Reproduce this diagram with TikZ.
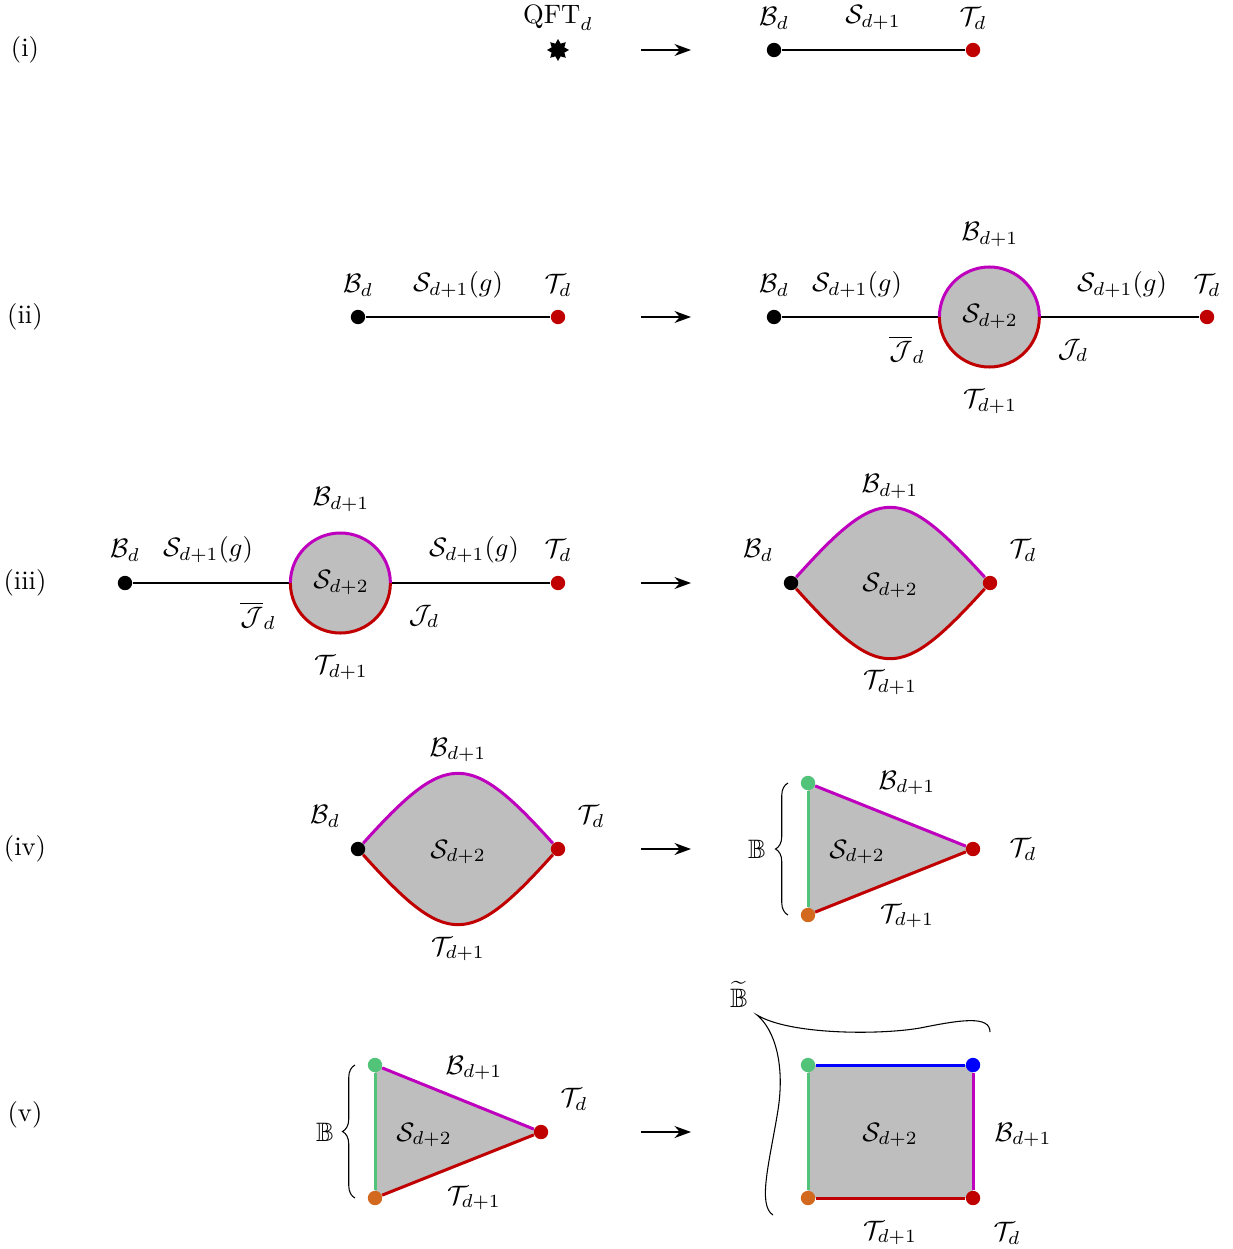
\documentclass[tikz,border=0pt]{standalone}
\usepackage{amssymb}
\usetikzlibrary{arrows.meta,shapes.geometric,decorations.pathreplacing}

\definecolor{tdred}{RGB}{192,0,0}
\definecolor{bdmag}{RGB}{190,0,190}
\definecolor{bgreen}{RGB}{82,196,122}
\definecolor{borange}{RGB}{210,105,30}
\definecolor{bblue}{RGB}{0,0,255}
\definecolor{blobgray}{RGB}{190,190,190}

\pgfdeclarelayer{background}
\pgfsetlayers{background,main}

\tikzset{
  vtx/.style={circle,fill=#1,inner sep=0pt,minimum size=0.19cm},
  vtx/.default=black,
  bline/.style={draw=bdmag,line width=1.13pt},
  tline/.style={draw=tdred,line width=1.13pt},
  gline/.style={draw=bgreen,line width=1.13pt},
  kline/.style={draw=bblue,line width=1.13pt},
  blob/.style={circle,fill=blobgray,inner sep=0pt,minimum size=1.32cm},
  bbrace/.style={decorate,decoration={brace,amplitude=4.7pt}},
}

\begin{document}
\begin{tikzpicture}[x=0.0132cm,y=-0.0132cm,line width=0.47pt,
    >={Stealth[length=6.2pt,width=4.5pt,inset=2pt]}]
\useasboundingbox (0,0) rectangle (1233,1249);

\node (lab1) at (25,50) {(i)};
\node (lab2) at (25,317) {(ii)};
\node (lab3) at (25,583) {(iii)};
\node (lab4) at (25,849) {(iv)};
\node (lab5) at (25,1115) {(v)};

\foreach \y [count=\i] in {50,317,583,849,1132}{
  \coordinate (aL\i) at (641,\y);
  \coordinate (aR\i) at (691,\y);
  \draw[->] (aL\i) -- (aR\i);
}

% (i)
\node[star,star points=8,star point ratio=1.6,fill=black,inner sep=0pt,
  minimum size=0.29cm] (qft) at (558,50) {};
\node (qftl) at (558,18) {$\mathrm{QFT}_d$};
\node[vtx] (b1) at (774,50) {};
\node[vtx=tdred] (t1) at (973,50) {};
\draw (b1) -- (t1);
\node (b1l) at (774,18) {$\mathcal{B}_d$};
\node (s1l) at (873,18) {$\mathcal{S}_{d+1}$};
\node (t1l) at (973,18) {$\mathcal{T}_d$};

% (ii)
\node[vtx] (b2L) at (358,317) {};
\node[vtx=tdred] (t2L) at (558,317) {};
\draw (b2L) -- (t2L);
\node (b2Ll) at (358,285) {$\mathcal{B}_d$};
\node (s2Ll) at (458,285) {$\mathcal{S}_{d+1}(g)$};
\node (t2Ll) at (558,285) {$\mathcal{T}_d$};

\node[vtx] (b2R) at (774,317) {};
\node[blob] (blob2) at (990,317) {$\mathcal{S}_{d+2}$};
\node[vtx=tdred] (t2R) at (1207,317) {};
\draw (b2R) -- (blob2.west);
\draw (blob2.east) -- (t2R);
\draw[bline] (blob2.west) arc[start angle=180,end angle=0,radius=0.66cm];
\draw[tline] (blob2.west) arc[start angle=180,end angle=360,radius=0.66cm];
\node (b2Rl) at (774,285) {$\mathcal{B}_d$};
\node (s2Rl) at (857,285) {$\mathcal{S}_{d+1}(g)$};
\node (bb2l) at (990,235) {$\mathcal{B}_{d+1}$};
\node (tt2l) at (990,402) {$\mathcal{T}_{d+1}$};
\node (jb2l) at (907,350) {$\overline{\mathcal{J}}_d$};
\node (j2l) at (1073,350) {$\mathcal{J}_d$};
\node (s2Rr) at (1122,285) {$\mathcal{S}_{d+1}(g)$};
\node (t2Rl) at (1207,285) {$\mathcal{T}_d$};

% (iii)
\node[vtx] (b3L) at (125,583) {};
\node[blob] (blob3) at (341,583) {$\mathcal{S}_{d+2}$};
\node[vtx=tdred] (t3L) at (558,583) {};
\draw (b3L) -- (blob3.west);
\draw (blob3.east) -- (t3L);
\draw[bline] (blob3.west) arc[start angle=180,end angle=0,radius=0.66cm];
\draw[tline] (blob3.west) arc[start angle=180,end angle=360,radius=0.66cm];
\node (b3Ll) at (125,550) {$\mathcal{B}_d$};
\node (s3Ll) at (208,550) {$\mathcal{S}_{d+1}(g)$};
\node (bb3l) at (341,500) {$\mathcal{B}_{d+1}$};
\node (tt3l) at (341,668) {$\mathcal{T}_{d+1}$};
\node (jb3l) at (258,616) {$\overline{\mathcal{J}}_d$};
\node (j3l) at (424,616) {$\mathcal{J}_d$};
\node (s3Lr) at (474,550) {$\mathcal{S}_{d+1}(g)$};
\node (t3Ll) at (558,550) {$\mathcal{T}_d$};

\node[vtx] (b3R) at (791,583) {};
\node[vtx=tdred] (t3R) at (990,583) {};
\begin{pgfonlayer}{background}
\fill[blobgray] (b3R.center) .. controls (880,484) and (900,484) .. (t3R.center)
  .. controls (900,682) and (880,682) .. (b3R.center) -- cycle;
\end{pgfonlayer}
\draw[bline] (b3R) .. controls (880,484) and (900,484) .. (t3R);
\draw[tline] (b3R) .. controls (880,682) and (900,682) .. (t3R);
\node (s3R) at (890,586) {$\mathcal{S}_{d+2}$};
\node (b3Rl) at (758,550) {$\mathcal{B}_d$};
\node (t3Rl) at (1023,550) {$\mathcal{T}_d$};
\node (bb3Rl) at (890,487) {$\mathcal{B}_{d+1}$};
\node (tt3Rl) at (890,683) {$\mathcal{T}_{d+1}$};

% (iv)
\node[vtx] (b4) at (358,849) {};
\node[vtx=tdred] (t4) at (558,849) {};
\begin{pgfonlayer}{background}
\fill[blobgray] (b4.center) .. controls (447,750) and (469,750) .. (t4.center)
  .. controls (469,948) and (447,948) .. (b4.center) -- cycle;
\end{pgfonlayer}
\draw[bline] (b4) .. controls (447,750) and (469,750) .. (t4);
\draw[tline] (b4) .. controls (447,948) and (469,948) .. (t4);
\node (s4) at (458,852) {$\mathcal{S}_{d+2}$};
\node (b4l) at (325,816) {$\mathcal{B}_d$};
\node (t4l) at (591,816) {$\mathcal{T}_d$};
\node (bb4l) at (458,750) {$\mathcal{B}_{d+1}$};
\node (tt4l) at (458,949) {$\mathcal{T}_{d+1}$};

\node[vtx=bgreen] (g4) at (808,783) {};
\node[vtx=borange] (o4) at (808,915) {};
\node[vtx=tdred] (r4) at (973,849) {};
\begin{pgfonlayer}{background}
\fill[blobgray] (g4.center) -- (r4.center) -- (o4.center) -- cycle;
\end{pgfonlayer}
\draw[bline] (g4) -- (r4);
\draw[tline] (o4) -- (r4);
\draw[gline] (g4) -- (o4);
\node (s4R) at (857,852) {$\mathcal{S}_{d+2}$};
\node (bb4Rl) at (907,783) {$\mathcal{B}_{d+1}$};
\node (tt4Rl) at (907,916) {$\mathcal{T}_{d+1}$};
\node (t4Rl) at (1023,849) {$\mathcal{T}_d$};
\coordinate (br4a) at (788,915);
\coordinate (br4b) at (788,783);
\draw[bbrace] (br4a) -- (br4b);
\node (bbb4) at (757,849) {$\mathbb{B}$};

% (v)
\node[vtx=bgreen] (g5L) at (375,1065) {};
\node[vtx=borange] (o5L) at (375,1198) {};
\node[vtx=tdred] (r5L) at (541,1132) {};
\begin{pgfonlayer}{background}
\fill[blobgray] (g5L.center) -- (r5L.center) -- (o5L.center) -- cycle;
\end{pgfonlayer}
\draw[bline] (g5L) -- (r5L);
\draw[tline] (o5L) -- (r5L);
\draw[gline] (g5L) -- (o5L);
\node (s5L) at (424,1135) {$\mathcal{S}_{d+2}$};
\node (bb5Ll) at (474,1068) {$\mathcal{B}_{d+1}$};
\node (tt5Ll) at (474,1198) {$\mathcal{T}_{d+1}$};
\node (t5Ll) at (574,1099) {$\mathcal{T}_d$};
\coordinate (br5a) at (355,1198);
\coordinate (br5b) at (355,1065);
\draw[bbrace] (br5a) -- (br5b);
\node (bbb5) at (325,1132) {$\mathbb{B}$};

\node[vtx=bgreen] (g5R) at (808,1065) {};
\node[vtx=bblue] (k5R) at (973,1065) {};
\node[vtx=tdred] (r5R) at (973,1198) {};
\node[vtx=borange] (o5R) at (808,1198) {};
\begin{pgfonlayer}{background}
\fill[blobgray] (g5R.center) rectangle (r5R.center);
\end{pgfonlayer}
\draw[kline] (g5R) -- (k5R);
\draw[bline] (k5R) -- (r5R);
\draw[tline] (o5R) -- (r5R);
\draw[gline] (g5R) -- (o5R);
\node (s5R) at (890,1135) {$\mathcal{S}_{d+2}$};
\node (bb5Rl) at (1023,1135) {$\mathcal{B}_{d+1}$};
\node (tt5Rl) at (890,1233) {$\mathcal{T}_{d+1}$};
\node (t5Rl) at (1007,1233) {$\mathcal{T}_d$};
\draw (773,1215) .. controls (757,1205) and (770,1160) .. (778,1110)
  .. controls (785,1065) and (775,1030) .. (757,1015)
  .. controls (790,1035) and (880,1035) .. (920,1028)
  .. controls (960,1020) and (990,1015) .. (990,1032);
\node (bbt5) at (739,994) {$\widetilde{\mathbb{B}}$};
\end{tikzpicture}
\end{document}
